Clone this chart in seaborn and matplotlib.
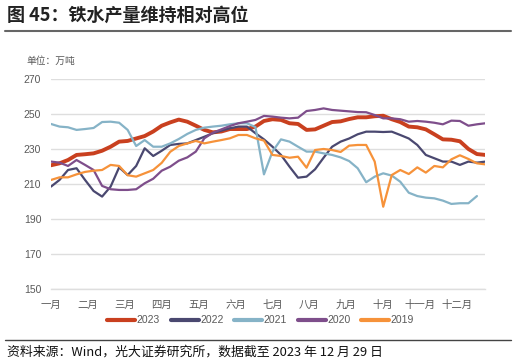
"""
Weekly pig iron output, 2019-2023 (万吨)
"""

import numpy as np
import pandas as pd
import seaborn as sns
import matplotlib.pyplot as plt
from matplotlib.lines import Line2D

y2023 = [220.7, 221.8, 223.7, 226.6, 227.0, 227.5, 229.0, 231.3, 234.2, 234.6,
         236.0, 237.4, 240.0, 243.3, 245.2, 246.8, 245.6, 243.3, 240.9, 239.5,
         240.0, 241.4, 241.4, 241.4, 242.8, 246.0, 247.0, 246.6, 244.7, 244.3,
         240.9, 241.2, 243.3, 245.4, 245.8, 247.1, 248.1, 248.1, 248.7, 249.0,
         247.0, 245.4, 242.8, 242.4, 241.2, 238.4, 235.5, 235.3, 234.4, 230.0,
         227.1, 226.6]
y2022 = [208.5, 212.3, 218.0, 219.0, 212.3, 206.0, 202.8, 208.5, 219.5, 215.1,
         220.3, 230.4, 226.0, 229.0, 232.3, 232.9, 233.2, 235.1, 237.0, 239.0,
         240.5, 241.8, 242.8, 242.8, 239.0, 235.5, 231.3, 226.6, 219.9, 213.6,
         214.2, 218.4, 225.0, 231.3, 234.2, 236.0, 238.4, 239.9, 239.9, 239.7,
         239.9, 238.0, 236.0, 232.3, 226.6, 224.7, 222.8, 222.8, 220.9, 222.8,
         222.2, 222.8]
y2021 = [244.3, 242.8, 242.4, 240.9, 241.4, 242.0, 245.4, 245.6, 245.0, 240.9,
         231.7, 235.1, 231.3, 231.3, 233.2, 235.7, 238.6, 240.9, 242.2, 242.8,
         243.3, 244.1, 244.7, 244.7, 242.5, 215.5, 228.5, 235.5, 234.2, 231.3,
         228.5, 228.5, 227.5, 226.6, 225.2, 223.1, 219.0, 211.0, 214.2, 216.1,
         214.8, 211.3, 205.0, 203.1, 202.2, 201.8, 200.5, 198.6, 199.0, 199.0,
         203.1]
y2020 = [222.8, 222.2, 220.3, 223.7, 220.9, 218.0, 208.9, 207.0, 206.6, 206.6,
         207.0, 210.4, 213.0, 217.6, 219.9, 223.3, 225.2, 228.5, 236.1, 239.3,
         241.2, 243.1, 244.7, 245.6, 246.6, 248.9, 248.5, 247.9, 247.5, 247.9,
         251.7, 252.3, 253.2, 252.3, 251.9, 251.5, 251.1, 251.0, 249.4, 247.5,
         247.5, 247.0, 245.6, 246.0, 245.6, 245.0, 244.1, 246.2, 246.0, 243.3,
         244.1, 244.7]
y2019 = [212.3, 213.8, 213.8, 215.5, 216.9, 217.6, 218.0, 220.9, 220.3, 215.0,
         214.2, 216.1, 218.0, 222.1, 228.4, 231.7, 233.2, 234.6, 233.2, 234.2,
         235.1, 236.1, 238.0, 238.0, 236.1, 234.8, 226.6, 226.0, 225.0, 225.6,
         219.3, 229.4, 230.0, 229.4, 228.3, 231.9, 232.3, 232.3, 222.8, 197.0,
         215.1, 218.0, 215.7, 219.5, 216.5, 220.3, 219.5, 224.1, 226.4, 224.3,
         221.8, 221.2]

years = ["2023", "2022", "2021", "2020", "2019"]
series = [y2023, y2022, y2021, y2020, y2019]
colors = ["#c9401f", "#4a4870", "#86b3c7", "#7e4e8b", "#f6923a"]
widths = [2.8, 1.6, 1.6, 1.6, 1.6]
months = ["一月", "二月", "三月", "四月", "五月", "六月",
          "七月", "八月", "九月", "十月", "十一月", "十二月"]

sns.set_style("white")
plt.rcParams["font.family"] = ["Liberation Sans", "Noto Sans CJK SC", "DejaVu Sans"]
cjk = ["Noto Sans CJK SC", "DejaVu Sans"]

fig = plt.figure(figsize=(5.16, 3.63), dpi=100)
ax = fig.add_axes([0.0988, 0.2039, 0.842, 0.5785])

for yr, vals, c, lw in zip(years, series, colors, widths):
    df = pd.DataFrame({"week": np.arange(len(vals)), "value": vals})
    sns.lineplot(data=df, x="week", y="value", ax=ax, color=c, linewidth=lw)

ax.set_xlim(0, 51)
ax.set_ylim(150, 270)
ax.set_yticks(range(150, 271, 20))
ax.set_xticks([i * 52 / 12 for i in range(12)])
ax.set_xticklabels(months, family=cjk)
ax.set_xlabel("")
ax.set_ylabel("")
ax.grid(axis="y", color="#dedede", linewidth=1)
ax.set_axisbelow(True)
for side in ["top", "right", "left"]:
    ax.spines[side].set_visible(False)
ax.spines["bottom"].set_color("#dedede")
ax.spines["bottom"].set_linewidth(1)
ax.tick_params(axis="x", colors="#595959", labelsize=7.5, length=3, width=0.8,
               color="#dedede", pad=5)
ax.tick_params(axis="y", colors="#595959", labelsize=7.5, length=0, pad=7)

# legend
handles = [Line2D([0], [0], color=c, linewidth=3) for c in colors]
fig.legend(handles, years, loc="center", bbox_to_anchor=(0.505, 0.118), ncol=5,
           frameon=False, fontsize=7.5, handlelength=2.7, handletextpad=0.15,
           columnspacing=1.0, labelcolor="#595959")

# title and notes
fig.text(0.014, 0.957, "图 45：铁水产量维持相对高位", fontsize=13, fontweight="bold",
         color="#222222", va="center", family=cjk)
fig.add_artist(Line2D([0.01, 0.99], [0.915, 0.915], color="#666666", linewidth=1.5))
fig.text(0.052, 0.832, "单位：万吨", fontsize=7, color="#595959", va="center", family=cjk)
fig.add_artist(Line2D([0.01, 0.99], [0.063, 0.063], color="#444444", linewidth=1))
fig.text(0.014, 0.031, "资料来源：Wind，光大证券研究所，数据截至 2023 年 12 月 29 日",
         fontsize=9.3, color="#111111", va="center", family=cjk)

fig.savefig("out.png", dpi=100)
